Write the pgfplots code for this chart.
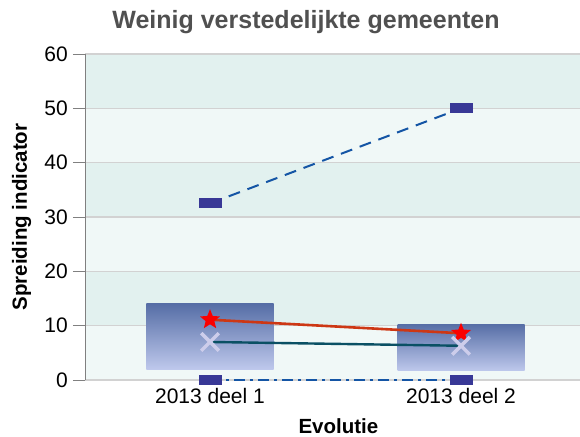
\documentclass[border=0pt]{standalone}
\usepackage{fontspec}
\setmainfont{Liberation Sans}
\usepackage{pgfplots}
\pgfplotsset{compat=1.18}
\definecolor{bandDark}{RGB}{226,241,239}
\definecolor{bandLight}{RGB}{240,248,247}
\definecolor{gridGray}{RGB}{210,210,210}
\definecolor{titleGray}{RGB}{80,80,80}
\definecolor{navyMark}{RGB}{56,56,150}
\definecolor{dashBlue}{RGB}{20,85,165}
\definecolor{lineRed}{RGB}{205,55,20}
\definecolor{starRed}{RGB}{250,0,0}
\definecolor{tealLine}{RGB}{10,80,100}
\definecolor{xLav}{RGB}{205,205,235}
\definecolor{boxTop}{RGB}{86,110,166}
\definecolor{boxBot}{RGB}{190,200,236}
\pgfdeclareplotmark{hrect}{\pgfpathrectangle{\pgfqpoint{-11.5pt}{-5pt}}{\pgfqpoint{23pt}{10pt}}\pgfusepathqfill}
\pgfdeclareplotmark{fstar}{%
  \pgfpathmoveto{\pgfqpointpolar{90}{10.5pt}}%
  \pgfpathlineto{\pgfqpointpolar{126}{4.6pt}}%
  \pgfpathlineto{\pgfqpointpolar{162}{10.5pt}}%
  \pgfpathlineto{\pgfqpointpolar{198}{4.6pt}}%
  \pgfpathlineto{\pgfqpointpolar{234}{10.5pt}}%
  \pgfpathlineto{\pgfqpointpolar{270}{4.6pt}}%
  \pgfpathlineto{\pgfqpointpolar{306}{10.5pt}}%
  \pgfpathlineto{\pgfqpointpolar{342}{4.6pt}}%
  \pgfpathlineto{\pgfqpointpolar{18}{10.5pt}}%
  \pgfpathlineto{\pgfqpointpolar{54}{4.6pt}}%
  \pgfpathclose\pgfusepathqfill}
\begin{document}
\begin{tikzpicture}
\begin{axis}[set layers, scale only axis, width=495pt, height=326pt,
  xmin=-0.498, xmax=1.474, ymin=0, ymax=60,
  clip=false,
  separate axis lines, axis x line*=bottom, axis y line*=left,
  x axis line style={-, draw=gridGray, line width=1.3pt},
  y axis line style={-, draw=gray, line width=0.8pt},
  xtick={0,1}, xticklabels={2013 deel 1, 2013 deel 2},
  xtick style={draw=none},
  ytick={0,10,...,60},
  ytick style={draw=gray, line width=0.8pt},
  tick align=outside, major tick length=12pt,
  ymajorgrids, grid style={gridGray, line width=1.3pt},
  /pgf/number format/assume math mode=true,
  tick label style={font=\fontsize{21}{25}\selectfont},
  yticklabel style={anchor=east, inner sep=0pt, xshift=-5pt},
  xticklabel style={anchor=base, inner sep=0pt, yshift=-11pt},
  xlabel={Evolutie}, ylabel={Spreiding indicator},
  label style={font=\fontsize{20.5}{24}\selectfont\bfseries},
  xlabel style={at={(axis description cs:0.512,0)}, anchor=base, yshift=-53pt},
  ylabel style={at={(axis description cs:-0.1172,0.5)}, anchor=base},
]
\begin{pgfonlayer}{axis background}
\fill[bandLight] (axis cs:-0.498,0) rectangle (axis cs:1.474,10);
\fill[bandDark] (axis cs:-0.498,10) rectangle (axis cs:1.474,20);
\fill[bandLight] (axis cs:-0.498,20) rectangle (axis cs:1.474,30);
\fill[bandDark] (axis cs:-0.498,30) rectangle (axis cs:1.474,40);
\fill[bandLight] (axis cs:-0.498,40) rectangle (axis cs:1.474,50);
\fill[bandDark] (axis cs:-0.498,50) rectangle (axis cs:1.474,60);
\end{pgfonlayer}
% spread boxes
\addplot[forget plot, draw=none, top color=boxTop, bottom color=boxBot]
  coordinates {(-0.253,2.0) (0.253,2.0) (0.253,14.0) (-0.253,14.0) (-0.253,2.0)};
\addplot[forget plot, draw=none, top color=boxTop, bottom color=boxBot]
  coordinates {(0.747,1.7) (1.253,1.7) (1.253,10.3) (0.747,10.3) (0.747,1.7)};
% max and min
\addplot[navyMark, only marks, mark=hrect] coordinates {(0,32.5) (1,50.0)};
\addplot[dashBlue, line width=2pt, dash pattern=on 12pt off 8pt, no marks] coordinates {(0,32.5) (1,50.0)};
\addplot[navyMark, only marks, mark=hrect] coordinates {(0,0) (1,0)};
\addplot[dashBlue, line width=2pt, dash pattern=on 11pt off 5pt on 3pt off 5pt, no marks] coordinates {(0,0) (1,0)};
% mean and median
\addplot[lineRed, line width=2.6pt, mark=fstar, mark options={starRed, solid}] coordinates {(0,11.1) (1,8.6)};
\addplot[tealLine, line width=2.4pt, mark=x, mark size=12.5pt, mark options={xLav, line width=3.5pt}] coordinates {(0,7.0) (1,6.3)};
\end{axis}
\node[anchor=base, font=\fontsize{25}{29}\selectfont\bfseries, text=titleGray] at (221pt,351pt) {Weinig verstedelijkte gemeenten};
\pgfresetboundingbox
\path[use as bounding box] (-85pt,-56pt) rectangle (495pt,380pt);
\end{tikzpicture}
\end{document}
